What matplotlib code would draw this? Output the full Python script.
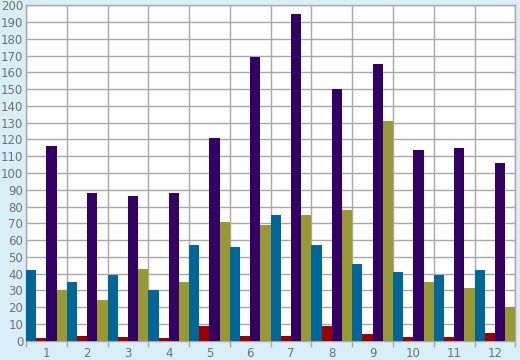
import numpy as np
import matplotlib
matplotlib.use("Agg")
import matplotlib.pyplot as plt

# values
groups = ["1", "2", "3", "4", "5", "6", "7", "8", "9", "10", "11", "12"]
blue = [42, 35, 39, 30, 57, 56, 75, 57, 46, 41, 39, 42]
red = [1.5, 3, 2, 1.5, 9, 3, 3, 9, 4, 2, 2, 4.5]
purple = [116, 88, 86, 88, 121, 169, 195, 150, 165, 114, 115, 106]
olive = [30, 24, 43, 35, 71, 69, 75, 78, 131, 35, 31.5, 20]

series = [blue, red, purple, olive]
colors = ["#006699", "#990000", "#330066", "#999933"]
bg = "#d9eff7"
grid_col = "#a8a8a8"
text_col = "#707070"

fig = plt.figure(figsize=(5.2, 3.6), dpi=100, facecolor=bg)
ax = fig.add_axes([26 / 520, 19.3 / 360, 489.3 / 520, 335.4 / 360])
ax.set_facecolor("white")

x = np.arange(len(groups))
width = 0.25
for k, (vals, col) in enumerate(zip(series, colors)):
    ax.bar(x + width * (k + 0.5), vals, width=width, color=col, zorder=3, linewidth=0)

ax.set_xlim(0, len(groups))
ax.set_ylim(0, 200)

# gridlines at group boundaries, labels centred in each group
ax.set_xticks(np.arange(len(groups) + 1))
ax.set_xticklabels([])
ax.set_xticks(x + 0.5, minor=True)
ax.set_xticklabels(groups, minor=True)
ax.tick_params(axis="x", which="major", length=4, color=grid_col, width=1)
ax.tick_params(axis="x", which="minor", length=0, pad=4.5, labelsize=8.5, labelcolor=text_col)

ax.set_yticks(np.arange(0, 201, 10))
ax.tick_params(axis="y", length=0, pad=2, labelsize=8.5, labelcolor=text_col)

ax.grid(True, which="major", color=grid_col, linewidth=1.0, zorder=0)
ax.set_axisbelow(True)
for sp in ax.spines.values():
    sp.set_color(grid_col)
    sp.set_linewidth(1.0)

fig.savefig("out.png", dpi=100, facecolor=bg)
